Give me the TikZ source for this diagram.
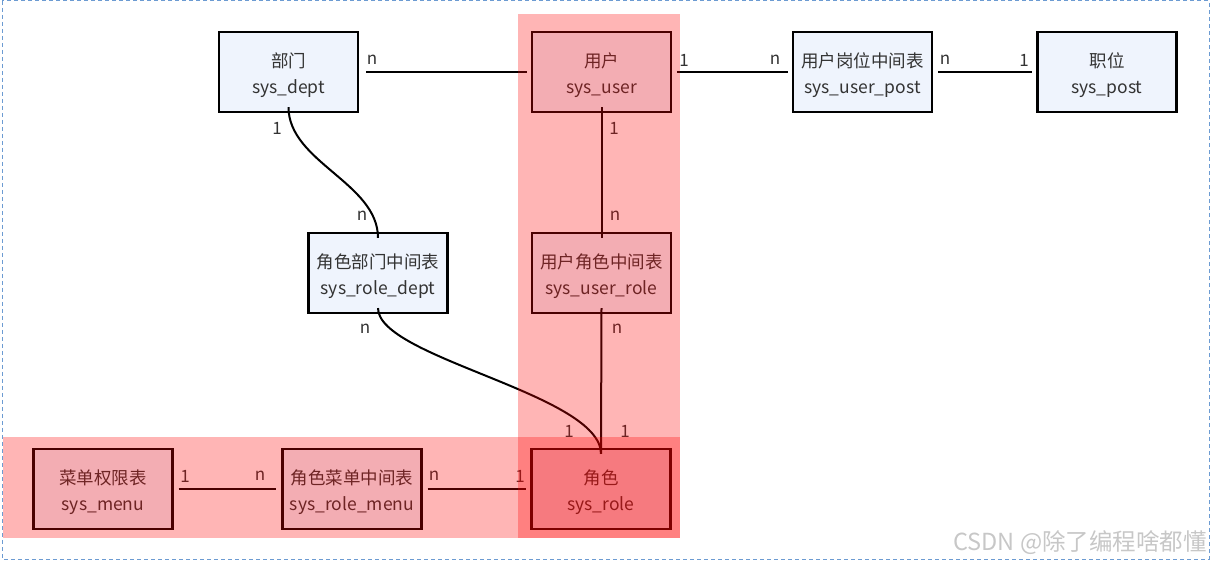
\documentclass[tikz,border=0pt]{standalone}
\usepackage{fontspec}
\setmainfont{Noto Sans CJK SC}
\newfontfamily\cjk{Noto Sans CJK SC}
\newcommand\tbtext[2]{\raisebox{-3.5pt}[\height][\depth]{\begin{tabular}{@{}c@{}}#1\\#2\end{tabular}}}
\begin{document}
\begin{tikzpicture}[x=1pt,y=-1pt,
  tbl/.style={draw=black, line width=2.2pt, fill=boxfill, minimum width=139pt, minimum height=80pt,
    inner sep=0pt, font=\cjk\fontsize{17.5}{26}\selectfont, text=txtgray},
  conn/.style={line width=2pt, draw=black},
  lbl/.style={font=\cjk\fontsize{17}{19}\selectfont, text=txtgray, inner sep=0pt},
  hl/.style={fill=red, fill opacity=0.29, draw=none}]
\definecolor{boxfill}{RGB}{239,244,253}
\definecolor{txtgray}{RGB}{51,51,51}
\definecolor{framecol}{RGB}{108,155,210}
\useasboundingbox (0,0) rectangle (1211,561);
\draw[framecol, line width=1pt, dash pattern=on 4pt off 3pt] (2,1) rectangle (1209,559);

\node[tbl] (dept) at (288.5,72) {\tbtext{部门}{sys\_dept}};
\node[tbl] (user) at (601.5,72) {\tbtext{用户}{sys\_user}};
\node[tbl] (userpost) at (862.5,72) {\tbtext{用户岗位中间表}{sys\_user\_post}};
\node[tbl] (post) at (1107,72) {\tbtext{职位}{sys\_post}};
\node[tbl] (roledept) at (378,273) {\tbtext{角色部门中间表}{sys\_role\_dept}};
\node[tbl] (userrole) at (601.5,273) {\tbtext{用户角色中间表}{sys\_user\_role}};
\node[tbl] (menu) at (103,489) {\tbtext{菜单权限表}{sys\_menu}};
\node[tbl] (rolemenu) at (352,489) {\tbtext{角色菜单中间表}{sys\_role\_menu}};
\node[tbl] (role) at (601,489) {\tbtext{角色}{sys\_role}};

\draw[conn] ([xshift=7pt]dept.east) -- ([xshift=-4pt]user.west);
\draw[conn] ([xshift=5pt]user.east) -- ([xshift=-4pt]userpost.west);
\draw[conn] ([xshift=5pt]userpost.east) -- ([xshift=-4pt]post.west);
\draw[conn] ([yshift=6pt]dept.south) .. controls +(0,55) and +(0,-55) .. ([yshift=-6pt]roledept.north);
\draw[conn] ([yshift=6pt]user.south) -- ([yshift=-6pt]userrole.north);
\draw[conn] ([yshift=6pt]roledept.south) .. controls +(0,50) and +(0,-60) .. ([yshift=-6pt]role.north);
\draw[conn] ([yshift=6pt]userrole.south) -- ([yshift=-6pt]role.north);
\draw[conn] ([xshift=5pt]menu.east) -- ([xshift=-5pt]rolemenu.west);
\draw[conn] ([xshift=5pt]rolemenu.east) -- ([xshift=-4pt]role.west);

\node[lbl] (l1) at (372,60) {n};
\node[lbl] (l2) at (684,60) {1};
\node[lbl] (l3) at (775,60) {n};
\node[lbl] (l4) at (945,60) {n};
\node[lbl] (l5) at (1024,60) {1};
\node[lbl] (l6) at (277,128) {1};
\node[lbl] (l7) at (362,216) {n};
\node[lbl] (l8) at (614,128) {1};
\node[lbl] (l9) at (615,216) {n};
\node[lbl] (l10) at (365,329) {n};
\node[lbl] (l11) at (617,329) {n};
\node[lbl] (l12) at (569,431) {1};
\node[lbl] (l13) at (625,431) {1};
\node[lbl] (l14) at (185,476) {1};
\node[lbl] (l15) at (260,476) {n};
\node[lbl] (l16) at (434,476) {n};
\node[lbl] (l17) at (520,476) {1};

\fill[hl] (518,14) rectangle (680,538);
\fill[hl] (3,437) rectangle (680,538);

\node[font=\cjk\fontsize{23.5}{26}\selectfont, text=black!22, anchor=east, inner sep=0pt] (wm) at (1207,543) {CSDN @除了编程啥都懂};
\end{tikzpicture}
\end{document}
